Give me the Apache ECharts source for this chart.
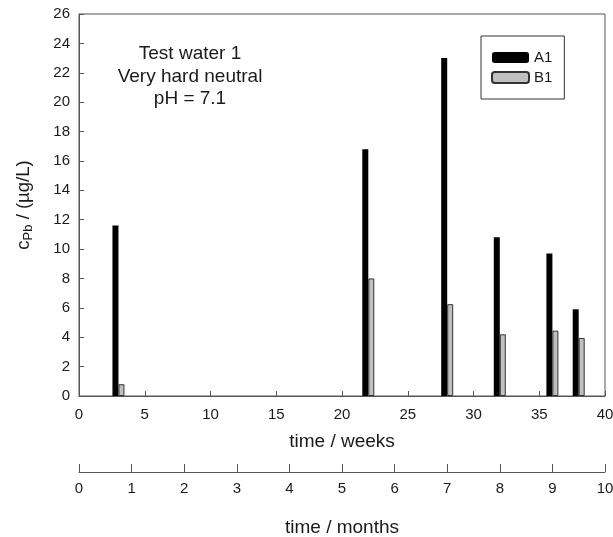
<!DOCTYPE html>
<html>
<head>
<meta charset="utf-8">
<script src="https://cdn.jsdelivr.net/npm/echarts@6/dist/echarts.min.js"></script>
<style>
  html, body { margin: 0; padding: 0; background: #fff; }
  #chart { width: 613px; height: 537px; }
</style>
</head>
<body>
<div id="chart"></div>
<script>
// sampling times (weeks)
var weeks = [3, 22, 28, 32, 36, 38];
// lead concentration, µg/L
var seriesA1 = [11.6, 16.8, 23.0, 10.8, 9.7, 5.9];
var seriesB1 = [0.8, 8.0, 6.25, 4.2, 4.45, 3.95];
// axis ticks
var yTicks = [0, 2, 4, 6, 8, 10, 12, 14, 16, 18, 20, 22, 24, 26];
var weekTicks = [0, 5, 10, 15, 20, 25, 30, 35, 40];
var monthTicks = [0, 1, 2, 3, 4, 5, 6, 7, 8, 9, 10];

var FONT = 'Liberation Sans, Arial, sans-serif';
var LINE = '#555';

var chart = echarts.init(document.getElementById('chart'));

function pairs(xs, ys) {
  return xs.map(function (x, i) { return [x, ys[i]]; });
}

var option = {
  animation: false,
  textStyle: { fontFamily: FONT, color: '#1a1a1a' },
  grid: {
    left: 79, right: 8, top: 14, bottom: 141,
    outerBoundsMode: 'none',
    show: true, borderColor: LINE, borderWidth: 1
  },
  legend: {
    orient: 'vertical',
    left: 481, top: 36,
    padding: [14, 12, 14, 10],
    itemWidth: 37, itemHeight: 11, itemGap: 5,
    borderColor: '#333', borderWidth: 1,
    textStyle: { fontFamily: FONT, fontSize: 15, color: '#1a1a1a' },
    data: ['A1', 'B1']
  },
  graphic: [{
    type: 'text',
    style: {
      x: 190, y: 43,
      text: 'Test water 1\nVery hard neutral\npH = 7.1',
      textAlign: 'center',
      font: '19px ' + FONT,
      lineHeight: 22.5,
      fill: '#1a1a1a'
    }
  }],
  xAxis: [{
    type: 'value',
    min: weekTicks[0], max: weekTicks[weekTicks.length - 1], interval: 5,
    name: 'time / weeks',
    nameLocation: 'middle', nameGap: 36,
    nameTextStyle: { fontSize: 19, color: '#1a1a1a' },
    axisLine: { lineStyle: { color: LINE } },
    axisTick: { inside: true, length: 5, lineStyle: { color: LINE } },
    axisLabel: { fontSize: 15, color: '#1a1a1a', margin: 11 },
    splitLine: { show: false }
  }, {
    type: 'value',
    position: 'bottom',
    offset: 76,
    min: monthTicks[0], max: monthTicks[monthTicks.length - 1], interval: 1,
    name: 'time / months',
    nameLocation: 'middle', nameGap: 46,
    nameTextStyle: { fontSize: 19, color: '#1a1a1a' },
    axisLine: { show: true, lineStyle: { color: LINE } },
    axisTick: { show: true, inside: true, length: 8, lineStyle: { color: LINE } },
    axisLabel: { fontSize: 15, color: '#1a1a1a', margin: 9 },
    splitLine: { show: false }
  }],
  yAxis: {
    type: 'value',
    min: yTicks[0], max: yTicks[yTicks.length - 1], interval: 2,
    name: '{a|c}{b|Pb}{a| / (µg/L)}',
    nameLocation: 'middle', nameGap: 44, nameRotate: 90,
    nameTextStyle: {
      rich: {
        a: { fontSize: 18.5, fontFamily: FONT, color: '#1a1a1a' },
        b: { fontSize: 13, fontFamily: FONT, color: '#1a1a1a', padding: [9, 0, 0, 0] }
      }
    },
    axisLine: { show: true, lineStyle: { color: LINE } },
    axisTick: { show: true, inside: true, length: 5, lineStyle: { color: LINE } },
    axisLabel: { fontSize: 15, color: '#1a1a1a', margin: 9 },
    splitLine: { show: false }
  },
  series: [{
    name: 'A1',
    type: 'bar',
    barWidth: 6,
    barGap: '0%',
    itemStyle: { color: '#000' },
    data: pairs(weeks, seriesA1)
  }, {
    name: 'B1',
    type: 'bar',
    barWidth: 6,
    barGap: '0%',
    itemStyle: { color: '#c0c0c0', borderColor: '#333', borderWidth: 1 },
    data: pairs(weeks, seriesB1)
  }]
};

chart.setOption(option);
</script>
</body>
</html>
